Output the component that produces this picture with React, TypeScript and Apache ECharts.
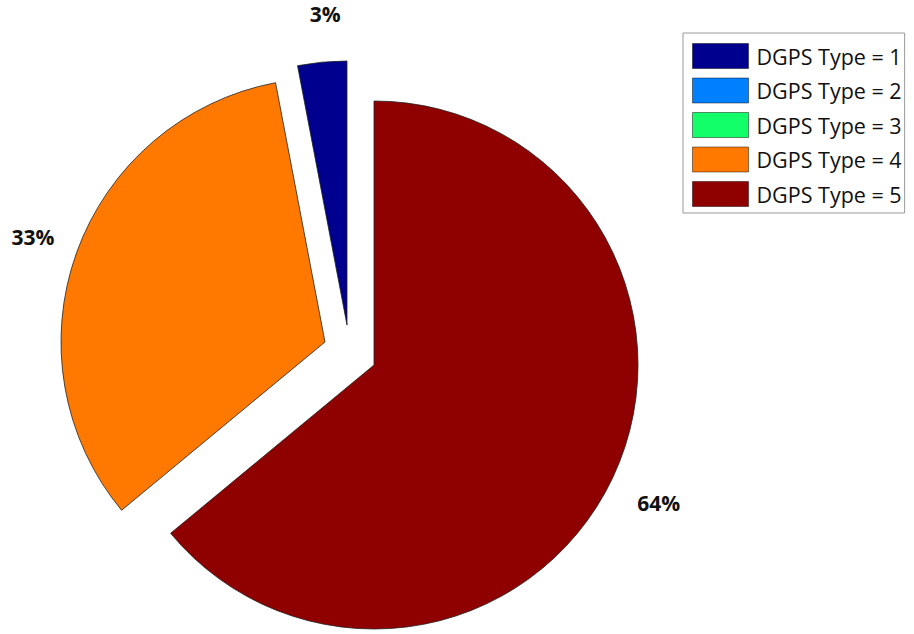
import React, { useEffect, useRef } from "react";
import * as echarts from "echarts";

const categories = [
  "DGPS Type = 1",
  "DGPS Type = 2",
  "DGPS Type = 3",
  "DGPS Type = 4",
  "DGPS Type = 5",
];
const shares = [3, 0, 0, 33, 64];
const colors = ["#00008F", "#0080FF", "#12FF6A", "#FF7800", "#8F0000"];

// which slices each (exploded) pie layer shows, with its centre and label tweaks
const layers = [
  { members: [0, 1, 2], center: ["347px", "325px"], dx: 8, dy: 4 },
  { members: [3], center: ["325px", "342px"], dx: 6, dy: 2 },
  { members: [4], center: ["374px", "365px"], dx: -2, dy: 3 },
];

export default function App() {
  const ref = useRef<HTMLDivElement>(null);
  useEffect(() => {
    document.body.style.margin = "0";
    const chart = echarts.init(ref.current!, null, { renderer: "svg" });
    const radius = 264;
    const series = layers.map((layer, li) => ({
      type: "pie",
      name: "layer" + li,
      startAngle: 90,
      clockwise: false,
      center: layer.center,
      radius: [0, radius],
      silent: true,
      avoidLabelOverlap: false,
      emphasis: { disabled: true },
      label: {
        show: true,
        position: "outside",
        formatter: "{d}%",
        fontFamily: "Open Sans",
        fontWeight: "bold",
        fontSize: 21,
        color: "#111",
        distanceToLabelLine: 0,
      },
      labelLine: { show: false, length: radius * 0.2, length2: 0 },
      labelLayout: { align: "center", verticalAlign: "middle", dx: layer.dx, dy: layer.dy },
      data: shares.map((v, j) => {
        const mine = layer.members.includes(j);
        if (mine) {
          return {
            name: categories[j],
            value: v,
            itemStyle: {
              color: colors[j],
              borderColor: "#222",
              borderWidth: v === 0 ? 0 : 0.8,
            },
            label: { show: v > 0 },
          };
        }
        return {
          name: "pad" + li + "_" + j,
          value: v,
          itemStyle: { color: "rgba(0,0,0,0)", borderWidth: 0 },
          label: { show: false },
        };
      }),
    }));
    chart.setOption({
      animation: false,
      backgroundColor: "#fff",
      legend: {
        data: categories,
        orient: "vertical",
        left: 683,
        top: 33,
        itemWidth: 56,
        itemHeight: 25,
        itemGap: 8.5,
        icon: "rect",
        selectedMode: false,
        padding: [10, 3, 6, 9],
        borderColor: "#9a9a9a",
        borderWidth: 1,
        backgroundColor: "#fff",
        itemStyle: { borderColor: "rgba(0,0,0,0.45)", borderWidth: 1 },
        textStyle: {
          fontFamily: "Open Sans",
          fontSize: 21.5,
          color: "#111",
          padding: [0, 0, 0, 3],
        },
      },
      series,
    });
    return () => chart.dispose();
  }, []);
  return <div ref={ref} style={{ width: 914, height: 634 }} />;
}
